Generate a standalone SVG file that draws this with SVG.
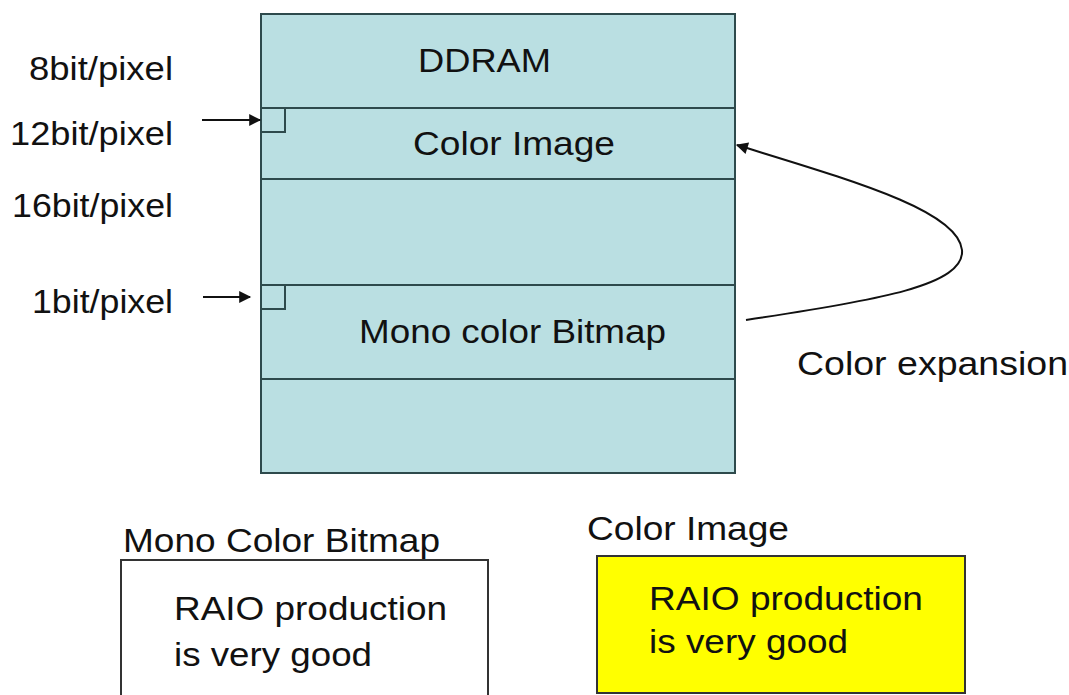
<svg xmlns="http://www.w3.org/2000/svg" width="1069" height="695" viewBox="0 0 1069 695">
<defs>
<style>
text{font-family:"Liberation Sans",Arial,sans-serif;font-size:33px;fill:#111;}
.mem{fill:#BADFE2;stroke:#2E4A4C;stroke-width:2;}
.div{stroke:#2E4A4C;stroke-width:2;fill:none;}
.conn{stroke:#111;stroke-width:2;fill:none;}
</style>
<marker id="ah" viewBox="0 0 10 10" refX="9" refY="5" markerWidth="7" markerHeight="7" markerUnits="userSpaceOnUse" orient="auto">
<path d="M0,0 L10,5 L0,10 z" fill="#111"/>
</marker>
<marker id="ah2" viewBox="0 0 10 10" refX="9" refY="5" markerWidth="14" markerHeight="12" orient="auto" markerUnits="userSpaceOnUse">
<path d="M0,0 L10,5 L0,10 z" fill="#111"/>
</marker>
</defs>
<rect width="1069" height="695" fill="#fff"/>
<g id="ddram">
<rect class="mem" x="261" y="14" width="474" height="459"/>
<line class="div" x1="261" y1="108" x2="735" y2="108"/>
<line class="div" x1="261" y1="179" x2="735" y2="179"/>
<line class="div" x1="261" y1="285" x2="735" y2="285"/>
<line class="div" x1="261" y1="379" x2="735" y2="379"/>
<text x="418" y="72" textLength="133" lengthAdjust="spacingAndGlyphs">DDRAM</text>
</g>
<g id="color-image-area">
<rect class="div" x="261" y="108" width="24" height="24"/>
<text x="413" y="155" textLength="202" lengthAdjust="spacingAndGlyphs">Color Image</text>
</g>
<g id="mono-bitmap-area">
<rect class="div" x="261" y="285" width="24" height="24"/>
<text x="359" y="343" textLength="307" lengthAdjust="spacingAndGlyphs">Mono color Bitmap</text>
</g>
<g id="labels">
<text x="29" y="80" textLength="144" lengthAdjust="spacingAndGlyphs">8bit/pixel</text>
<text x="10" y="145" textLength="163" lengthAdjust="spacingAndGlyphs">12bit/pixel</text>
<text x="12" y="217" textLength="161" lengthAdjust="spacingAndGlyphs">16bit/pixel</text>
<text x="32" y="313" textLength="141" lengthAdjust="spacingAndGlyphs">1bit/pixel</text>
<text x="797" y="375" textLength="271" lengthAdjust="spacingAndGlyphs">Color expansion</text>
</g>
<g id="connectors">
<line class="conn" x1="202" y1="120" x2="260" y2="120" marker-end="url(#ah2)"/>
<line class="conn" x1="203" y1="297" x2="250" y2="297" marker-end="url(#ah2)"/>
<path class="conn" d="M746,320 C880,300 965,285 962,250 C958,210 850,180 737,145" marker-end="url(#ah2)"/>
</g>
<g id="mono-sample">
<text x="123" y="552" textLength="317" lengthAdjust="spacingAndGlyphs">Mono Color Bitmap</text>
<rect x="121" y="560" width="367" height="140" fill="#fff" stroke="#333" stroke-width="2"/>
<text x="174" y="620" textLength="273" lengthAdjust="spacingAndGlyphs">RAIO production</text>
<text x="174" y="666" textLength="198" lengthAdjust="spacingAndGlyphs">is very good</text>
</g>
<g id="color-sample">
<text x="587" y="540" textLength="202" lengthAdjust="spacingAndGlyphs">Color Image</text>
<rect x="597" y="556" width="368" height="137" fill="#FFFF00" stroke="#333" stroke-width="2"/>
<text x="649" y="610" textLength="274" lengthAdjust="spacingAndGlyphs">RAIO production</text>
<text x="649" y="653" textLength="199" lengthAdjust="spacingAndGlyphs">is very good</text>
</g>
</svg>
